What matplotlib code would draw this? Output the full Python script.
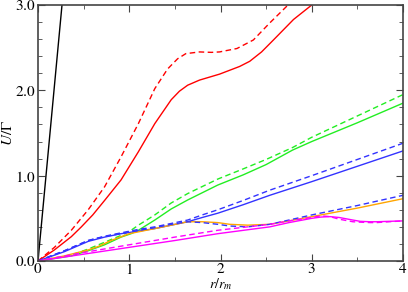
import matplotlib
matplotlib.use('Agg')
from matplotlib import pyplot as plt
from matplotlib.ticker import MultipleLocator, FormatStrFormatter

# black reference line
black_x = [0.0, 0.27]
black_y = [0.0, 3.08]

# red pair
red_x = [0.0, 0.18, 0.365, 0.475, 0.6, 0.73, 0.91, 1.10, 1.28, 1.46, 1.55, 1.64, 1.77, 1.99, 2.21, 2.32,
         2.45, 2.58, 2.80, 3.0, 3.05]
red_solid = [0.0, 0.13, 0.285, 0.40, 0.54, 0.71, 0.95, 1.28, 1.61, 1.89, 1.99, 2.06, 2.12, 2.19, 2.28, 2.34,
             2.45, 2.59, 2.83, 3.0, 3.06]
red_dash_x = [0.0, 0.18, 0.365, 0.55, 0.73, 0.91, 1.10, 1.28, 1.42, 1.53, 1.62, 1.77, 1.90, 1.99, 2.18,
              2.36, 2.54, 2.74, 2.8]
red_dash = [0.0, 0.16, 0.36, 0.60, 0.87, 1.22, 1.61, 2.02, 2.25, 2.37, 2.43, 2.45, 2.445, 2.45, 2.49,
            2.59, 2.79, 3.0, 3.07]

# green pair
green_x = [0.0, 0.365, 0.55, 0.73, 0.91, 1.02, 1.10, 1.28, 1.46, 1.64, 1.97, 2.25, 2.5, 2.79, 3.0, 3.5, 4.0]
green_solid = [0.0, 0.06, 0.12, 0.19, 0.28, 0.32, 0.36, 0.48, 0.61, 0.715, 0.89, 1.01, 1.13, 1.30, 1.40, 1.62, 1.85]
green_dash = [0.0, 0.07, 0.14, 0.22, 0.30, 0.36, 0.42, 0.54, 0.68, 0.79, 0.96, 1.08, 1.19, 1.33, 1.45, 1.70, 1.95]

# blue pair (upper)
blue_x = [0.0, 0.29, 0.55, 0.73, 0.91, 1.10, 1.28, 1.46, 1.64, 1.80, 1.97, 2.25, 2.54, 3.0, 3.5, 4.0]
blue_solid = [0.0, 0.11, 0.23, 0.28, 0.32, 0.35, 0.38, 0.42, 0.46, 0.51, 0.56, 0.66, 0.77, 0.93, 1.11, 1.29]
blue_dash = [0.0, 0.12, 0.24, 0.29, 0.33, 0.37, 0.40, 0.44, 0.48, 0.54, 0.60, 0.71, 0.83, 1.00, 1.19, 1.38]

# orange solid / blue dashed (lower)
low_x = [0.0, 0.29, 0.55, 0.66, 0.8, 1.0, 1.28, 1.46, 1.64, 1.80, 1.97, 2.10, 2.30, 2.54, 2.75, 3.0, 3.5, 4.0]
orange_solid = [0.0, 0.06, 0.13, 0.17, 0.24, 0.32, 0.38, 0.42, 0.46, 0.46, 0.45, 0.43, 0.42, 0.43, 0.47, 0.52,
                0.62, 0.73]
blue_low_dash = [0.0, 0.12, 0.24, 0.27, 0.30, 0.34, 0.39, 0.43, 0.46, 0.45, 0.43, 0.41, 0.40, 0.43, 0.48, 0.54,
                 0.65, 0.77]

# magenta pair
mag_x = [0.0, 0.5, 1.0, 1.5, 1.97, 2.54, 2.75, 3.0, 3.1, 3.2, 3.3, 3.45, 3.53, 3.64, 3.71, 3.85, 4.0]
mag_solid = [0.0, 0.08, 0.16, 0.24, 0.32, 0.40, 0.45, 0.50, 0.515, 0.52, 0.51, 0.48, 0.465, 0.46, 0.46, 0.465, 0.47]
mag_dash = [0.0, 0.10, 0.19, 0.28, 0.36, 0.43, 0.47, 0.51, 0.53, 0.52, 0.49, 0.46, 0.455, 0.45, 0.45, 0.46, 0.47]

plt.rcParams['font.family'] = 'serif'
plt.rcParams['font.serif'] = ['Liberation Serif', 'DejaVu Serif']
plt.rcParams['mathtext.fontset'] = 'stix'

fig = plt.figure(figsize=(4.08, 2.92), dpi=100)
ax = fig.add_axes([38 / 408, 1 - 261 / 292, 365 / 408, 256 / 292])

dash = (4, 2.5)
ax.plot(black_x, black_y, color='black', lw=1)
ax.plot(red_x, red_solid, color='#ff0000', lw=1)
ax.plot(red_dash_x, red_dash, color='#ff0000', lw=1, dashes=dash)
ax.plot(green_x, green_solid, color='#22ee22', lw=1)
ax.plot(green_x, green_dash, color='#22ee22', lw=1, dashes=dash)
ax.plot(blue_x, blue_solid, color='#3333ff', lw=1)
ax.plot(blue_x, blue_dash, color='#3333ff', lw=1, dashes=dash)
ax.plot(low_x, orange_solid, color='#ffa500', lw=1)
ax.plot(low_x, blue_low_dash, color='#3333ff', lw=1, dashes=dash)
ax.plot(mag_x, mag_solid, color='#ff00ff', lw=1)
ax.plot(mag_x, mag_dash, color='#ff00ff', lw=1, dashes=dash)

ax.set_xlim(0, 4)
ax.set_ylim(0, 3)
ax.xaxis.set_major_locator(MultipleLocator(1))
ax.xaxis.set_minor_locator(MultipleLocator(0.5))
ax.yaxis.set_major_locator(MultipleLocator(1))
ax.yaxis.set_minor_locator(MultipleLocator(0.2))
ax.xaxis.set_major_formatter(FormatStrFormatter('$%d$'))
ax.yaxis.set_major_formatter(FormatStrFormatter('$%.1f$'))
ax.tick_params(which='both', direction='in', top=True, right=True, labelsize=11, color='#444444')
ax.tick_params(which='major', length=5)
ax.tick_params(which='minor', length=3)
ax.tick_params(axis='x', pad=1)
ax.tick_params(axis='y', pad=2)
for s in ax.spines.values():
    s.set_color('#444444')
    s.set_linewidth(1.2)

ax.set_xlabel('$r/r_m$', fontsize=10, labelpad=-1)
ax.set_ylabel('$U/\\Gamma$', fontsize=11, labelpad=0)

fig.savefig('out.png', dpi=100)
